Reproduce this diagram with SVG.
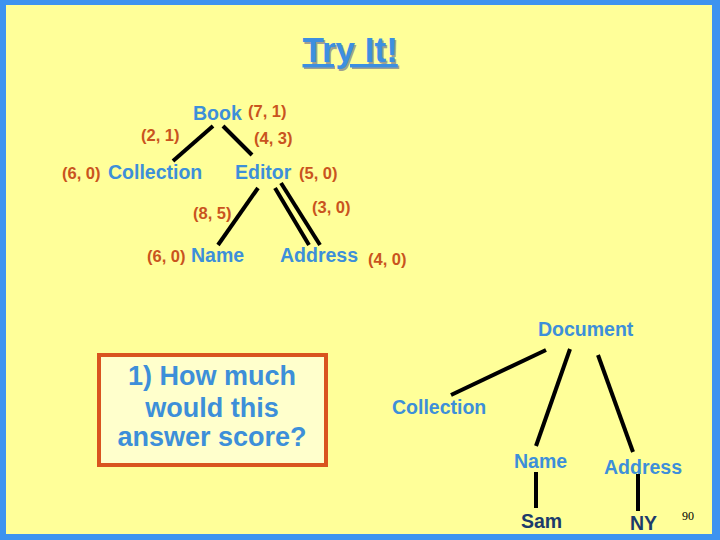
<svg xmlns="http://www.w3.org/2000/svg" width="720" height="540" viewBox="0 0 720 540">
<style>
.n{font-family:"Liberation Sans",Arial,sans-serif;font-weight:bold;font-size:19.5px;fill:#3d8fd9}
.s{font-family:"Liberation Sans",Arial,sans-serif;font-weight:bold;font-size:16.5px;fill:#c9541e}
.v{font-family:"Liberation Sans",Arial,sans-serif;font-weight:bold;font-size:19.5px;fill:#1c3b6b}
.q{font-family:"Liberation Sans",Arial,sans-serif;font-weight:bold;font-size:27px;fill:#3d8fd9;text-anchor:middle}
.e{stroke:#000;stroke-width:4;stroke-linecap:butt;fill:none}
</style>
<rect x="0" y="0" width="720" height="540" fill="#3d93f0"/>
<rect x="6" y="5" width="706" height="529" fill="#ffff99"/>
<g id="title">
<text x="304" y="63.5" font-family="Liberation Sans,Arial,sans-serif" font-weight="bold" font-size="35" fill="#a0a090" text-decoration="underline">Try It!</text>
<text x="302.5" y="62" font-family="Liberation Sans,Arial,sans-serif" font-weight="bold" font-size="35" fill="#3d8fe0" text-decoration="underline">Try It!</text>
</g>
<g id="connectors">
<line class="e" x1="213" y1="126" x2="173" y2="161"/>
<line class="e" x1="223" y1="126" x2="252" y2="155"/>
<line class="e" x1="258" y1="188" x2="218" y2="245"/>
<line class="e" x1="275" y1="188" x2="309" y2="245"/>
<line class="e" x1="281" y1="183" x2="320" y2="245"/>
<line class="e" x1="546" y1="350" x2="451" y2="395"/>
<line class="e" x1="570" y1="349" x2="536" y2="446"/>
<line class="e" x1="598" y1="355" x2="633" y2="452"/>
<line class="e" x1="536" y1="472" x2="536" y2="508"/>
<line class="e" x1="638" y1="474" x2="638" y2="511"/>
</g>
<g id="book"><text class="n" x="193" y="120">Book</text><text class="s" x="248" y="117">(7, 1)</text></g>
<g id="label-21"><text class="s" x="141" y="141">(2, 1)</text></g>
<g id="label-43"><text class="s" x="254" y="144">(4, 3)</text></g>
<g id="collection1"><text class="s" x="62" y="179">(6, 0)</text><text class="n" x="108" y="179">Collection</text></g>
<g id="editor"><text class="n" x="235" y="179">Editor</text><text class="s" x="299" y="179">(5, 0)</text></g>
<g id="label-85"><text class="s" x="193" y="219">(8, 5)</text></g>
<g id="label-30"><text class="s" x="312" y="213">(3, 0)</text></g>
<g id="name1"><text class="s" x="147" y="262">(6, 0)</text><text class="n" x="191" y="262">Name</text></g>
<g id="address1"><text class="n" x="280" y="262">Address</text><text class="s" x="368" y="265">(4, 0)</text></g>
<g id="question">
<rect x="99" y="355" width="227" height="110" fill="#ffffcc" stroke="#d9541f" stroke-width="4"/>
<text class="q" x="212" y="385">1) How much</text>
<text class="q" x="212" y="417">would this</text>
<text class="q" x="212" y="446">answer score?</text>
</g>
<g id="document"><text class="n" x="538" y="336">Document</text></g>
<g id="collection2"><text class="n" x="392" y="414">Collection</text></g>
<g id="name2"><text class="n" x="514" y="468">Name</text></g>
<g id="address2"><text class="n" x="604" y="474">Address</text></g>
<g id="sam"><text class="v" x="521" y="528">Sam</text></g>
<g id="ny"><text class="v" x="630" y="530">NY</text></g>
<text x="682" y="520" font-family="Liberation Serif,Times New Roman,serif" font-size="12" fill="#000">90</text>
</svg>
